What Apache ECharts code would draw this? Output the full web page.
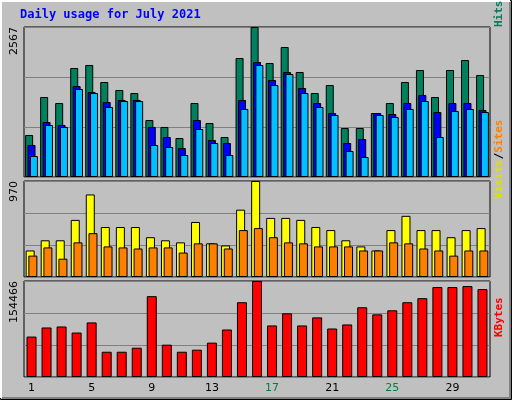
<!DOCTYPE html><html><head><meta charset="utf-8">
<script src="https://cdn.jsdelivr.net/npm/echarts@6/dist/echarts.min.js"></script>
<style>html,body{margin:0;padding:0;background:#c0c0c0}#c{width:512px;height:400px}</style></head><body><div id="c"></div>
<script>
const days=["1","2","3","4","5","6","7","8","9","10","11","12","13","14","15","16","17","18","19","20","21","22","23","24","25","26","27","28","29","30","31"];
const weekend=["3","4","10","11","17","18","24","25","31"];
const hits=[719,1369,1266,1865,1917,1626,1489,1437,975,856,667,1266,924,684,2036,2567,1951,2225,1797,1437,1574,838,838,1095,1266,1626,1831,1369,1831,2002,1745];
const files=[548,941,890,1557,1455,1283,1318,1318,856,684,496,975,633,582,1318,1968,1660,1797,1523,1266,1095,582,650,1095,1078,1266,1403,1112,1266,1266,1147];
const pages=[359,890,856,1506,1437,1198,1300,1300,548,513,376,821,582,376,1164,1917,1574,1763,1437,1198,1061,445,342,1061,1027,1164,1300,684,1129,1164,1112];
const visits=[268,371,371,577,834,505,505,505,402,371,350,556,340,319,680,970,597,597,577,505,474,371,309,268,474,618,474,474,402,474,494];
const sites=[216,299,185,350,443,309,299,288,299,299,247,340,340,288,474,494,402,350,340,309,309,309,268,268,350,340,288,268,216,268,268];
const kbytes=[65040,79674,81300,71544,87804,40650,40650,47154,130080,52032,40650,43902,55284,76422,120324,154466,82926,102438,82926,95934,78048,84552,112194,100812,107316,120324,126828,144714,144714,146340,141462];
const maxes=[2567,970,154466];

const grids=[{top:27,height:150},{top:181,height:96},{top:281,height:96}].map(g=>({left:24,right:22,top:g.top,height:g.height,show:true,backgroundColor:'#c0c0c0',borderColor:'#000',borderWidth:1}));
const xAxes=grids.map((g,i)=>({type:'category',gridIndex:i,data:days,axisLine:{show:false},axisTick:{show:false},
 axisLabel:{show:i===2,margin:6,fontFamily:'DejaVu Sans',fontSize:11,formatter:v=>weekend.includes(v)?'{w|'+v+'}':'{d|'+v+'}',rich:{w:{color:'#008040',fontSize:11},d:{color:'#000',fontSize:11}}}}));
const yAxes=maxes.map((m,i)=>({type:'value',gridIndex:i,min:0,max:m,interval:m/3,
 axisLine:{show:false},axisTick:{show:false},splitLine:{lineStyle:{color:'#808080',width:1}},
 axisLabel:{rotate:90,margin:4,fontFamily:'DejaVu Sans',fontSize:11,color:'#000',verticalAlign:'bottom',align:'right',formatter:v=>v===m?String(m):''}}));
const bs=(c)=>({color:c,borderColor:'#000',borderWidth:1});
const series=[
 {type:'bar',xAxisIndex:0,yAxisIndex:0,data:hits,barWidth:8,barGap:'-70%',itemStyle:bs('#00805c')},
 {type:'bar',xAxisIndex:0,yAxisIndex:0,data:files,barWidth:8,barGap:'-70%',itemStyle:bs('#0000ff')},
 {type:'bar',xAxisIndex:0,yAxisIndex:0,data:pages,barWidth:8,barGap:'-70%',itemStyle:bs('#00c0ff')},
 {type:'bar',xAxisIndex:1,yAxisIndex:1,data:visits,barWidth:9,barGap:'-70%',itemStyle:bs('#ffff00')},
 {type:'bar',xAxisIndex:1,yAxisIndex:1,data:sites,barWidth:9,barGap:'-70%',itemStyle:bs('#ff8000')},
 {type:'bar',xAxisIndex:2,yAxisIndex:2,data:kbytes,barWidth:10,itemStyle:bs('#ff0000')}
];
const vt=(x,y,rich,txt)=>({type:'text',x:x,y:y,rotation:Math.PI/2,style:{text:txt,rich:rich,font:'bold 11px DejaVu Sans Mono',textAlign:'left',textVerticalAlign:'middle'}});
const R={p:{fill:'#00c0ff',font:'bold 11px DejaVu Sans Mono'},f:{fill:'#0000ff',font:'bold 11px DejaVu Sans Mono'},h:{fill:'#00805c',font:'bold 11px DejaVu Sans Mono'},s:{fill:'#ff8000',font:'bold 11px DejaVu Sans Mono'},v:{fill:'#e0e000',font:'bold 11px DejaVu Sans Mono'},k:{fill:'#ff0000',font:'bold 11px DejaVu Sans Mono'},b:{fill:'#000',font:'bold 11px DejaVu Sans Mono'}};
const chart=echarts.init(document.getElementById('c'),null,{renderer:'canvas'});
chart.setOption({backgroundColor:'#c0c0c0',animation:false,grid:grids,xAxis:xAxes,yAxis:yAxes,series:series,
 graphic:[
  {type:'rect',shape:{x:0.5,y:0.5,width:511,height:399},style:{fill:null,stroke:'#000',lineWidth:1}},
  {type:'polyline',shape:{points:[[1,398],[1,1],[510,1]]},style:{stroke:'#fff',lineWidth:2,fill:null}},
  {type:'polyline',shape:{points:[[2,398],[510,398],[510,2]]},style:{stroke:'#808080',lineWidth:2,fill:null}},
  {type:'text',x:20,y:9,style:{text:'Daily usage for July 2021',font:'bold 12px DejaVu Sans Mono',fill:'#0000ff'}},
  vt(499,27,R,'{h|Hits}{b|/}{f|Files}{b|/}{p|Pages}'),
  vt(499,199,R,'{v|Visits}{b|/}{s|Sites}'),
  vt(499,337,R,'{k|KBytes}')
 ]});
</script></body></html>
